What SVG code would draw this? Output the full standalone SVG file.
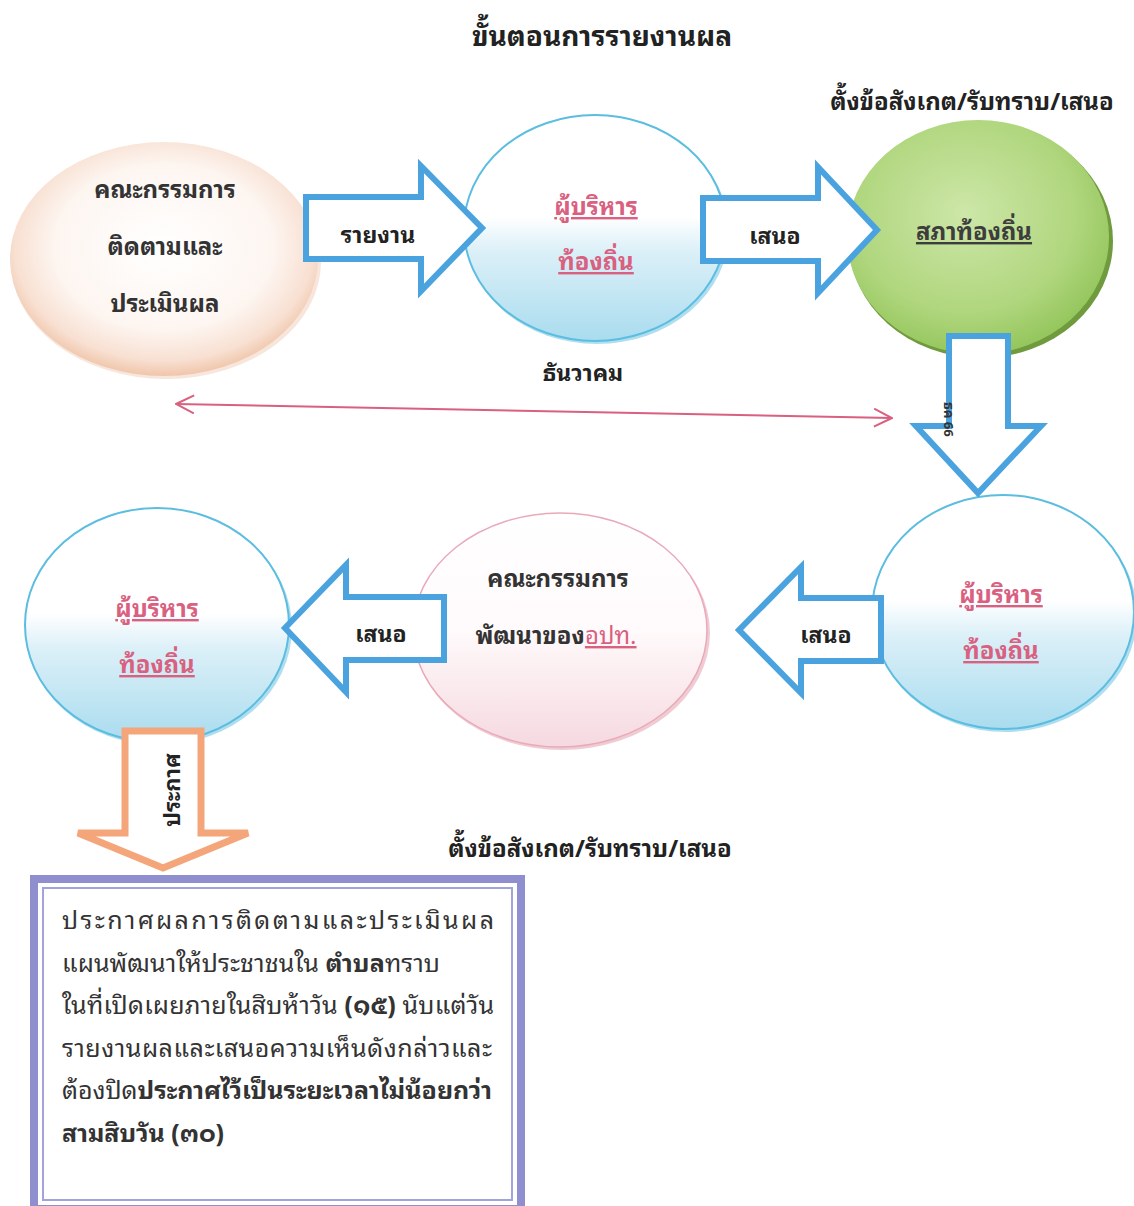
<svg xmlns="http://www.w3.org/2000/svg" width="1134" height="1206" viewBox="0 0 1134 1206">
<defs>
<style>
text{font-family:"Noto Sans Thai Looped","Loma","Garuda","Noto Sans Thai","Noto Sans",sans-serif;}
.t{fill:#333;font-weight:bold;font-size:24px;text-anchor:middle;}
.pk{fill:#d9607f;font-weight:bold;font-size:24px;text-anchor:middle;text-decoration:underline;}
.lb{fill:#222;font-weight:bold;font-size:23px;text-anchor:middle;}
.arrB{fill:#fff;stroke:#4aa3df;stroke-width:6;stroke-linejoin:miter;}
.arrO{fill:#fff;stroke:#f4a57a;stroke-width:7;stroke-linejoin:miter;}
.bx{fill:#333;font-size:25px;}
.b{font-weight:bold;}
</style>
<radialGradient id="gPeach" cx="0.5" cy="0.45" r="0.55">
<stop offset="0" stop-color="#ffffff"/><stop offset="0.65" stop-color="#fdf5f0"/><stop offset="0.88" stop-color="#f8e0d2"/><stop offset="1" stop-color="#f0c6ab"/>
</radialGradient>
<linearGradient id="gBlue" x1="0" y1="0" x2="0" y2="1">
<stop offset="0" stop-color="#ffffff"/><stop offset="0.45" stop-color="#ffffff"/><stop offset="0.6" stop-color="#dcf0f8"/><stop offset="1" stop-color="#a9dcef"/>
</linearGradient>
<radialGradient id="gGreen" cx="0.45" cy="0.4" r="0.6">
<stop offset="0" stop-color="#cde7a8"/><stop offset="0.7" stop-color="#b0d67e"/><stop offset="1" stop-color="#96c75e"/>
</radialGradient>
<linearGradient id="gPink" x1="0" y1="0" x2="0" y2="1">
<stop offset="0" stop-color="#ffffff"/><stop offset="0.5" stop-color="#fffafb"/><stop offset="1" stop-color="#f5d9e0"/>
</linearGradient>
<marker id="chev" viewBox="0 0 20 20" refX="19" refY="10" markerWidth="20" markerHeight="20" markerUnits="userSpaceOnUse" orient="auto-start-reverse">
<path d="M1,1 L19,10 L1,19" fill="none" stroke="#d9607f" stroke-width="2"/>
</marker>
</defs>
<rect width="1134" height="1206" fill="#fff"/>

<text x="602" y="46" class="t" style="font-size:28px;fill:#222">ขั้นตอนการรายงานผล</text>
<text x="972" y="110" class="t" style="fill:#222">ตั้งข้อสังเกต/รับทราบ/เสนอ</text>

<g id="node-committee-eval">
<ellipse cx="166" cy="262" rx="155" ry="117" fill="#e9b79b" opacity="0.35"/>
<ellipse cx="164" cy="259" rx="154" ry="117" fill="url(#gPeach)"/>
<text x="165" y="198" class="t">คณะกรรมการ</text>
<text x="165" y="255" class="t">ติดตามและ</text>
<text x="165" y="312" class="t">ประเมินผล</text>
</g>

<g id="node-exec1">
<ellipse cx="597" cy="231" rx="132" ry="113" fill="#8fd0e8" opacity="0.7"/>
<ellipse cx="595" cy="228" rx="131" ry="113" fill="url(#gBlue)" stroke="#5bbde0" stroke-width="2"/>
<text x="596" y="215" class="pk">ผู้บริหาร</text>
<text x="596" y="270" class="pk">ท้องถิ่น</text>
</g>

<g id="node-council">
<ellipse cx="981" cy="241" rx="132" ry="117" fill="#6f9a3e"/>
<ellipse cx="978" cy="237" rx="131" ry="117" fill="url(#gGreen)"/>
<text x="974" y="240" class="t" style="text-decoration:underline;fill:#3d3d3d">สภาท้องถิ่น</text>
</g>

<g id="node-exec2">
<ellipse cx="1005" cy="615" rx="132" ry="117" fill="#8fd0e8" opacity="0.7"/>
<ellipse cx="1003" cy="612" rx="131" ry="117" fill="url(#gBlue)" stroke="#5bbde0" stroke-width="2"/>
<text x="1001" y="603" class="pk">ผู้บริหาร</text>
<text x="1001" y="659" class="pk">ท้องถิ่น</text>
</g>

<g id="node-committee-dev">
<ellipse cx="562" cy="633" rx="148" ry="117" fill="#e8b7c2" opacity="0.7"/>
<ellipse cx="560" cy="630" rx="147" ry="117" fill="url(#gPink)" stroke="#eaa9b8" stroke-width="1.5"/>
<text x="558" y="587" class="t">คณะกรรมการ</text>
<text x="556" y="644" class="t"><tspan>พัฒนาของ</tspan><tspan style="fill:#d9607f;text-decoration:underline;font-weight:normal">อปท.</tspan></text>
</g>

<g id="node-exec3">
<ellipse cx="159" cy="628" rx="133" ry="117" fill="#8fd0e8" opacity="0.7"/>
<ellipse cx="157" cy="625" rx="132" ry="117" fill="url(#gBlue)" stroke="#5bbde0" stroke-width="2"/>
<text x="157" y="617" class="pk">ผู้บริหาร</text>
<text x="157" y="673" class="pk">ท้องถิ่น</text>
</g>

<g id="connectors">
<path class="arrB" d="M306,197 L421,197 L421,166 L482,228 L421,291 L421,259 L306,259 Z"/>
<text x="378" y="243" class="lb">รายงาน</text>
<path class="arrB" d="M703,198 L818,198 L818,167 L877,230 L818,293 L818,261 L703,261 Z"/>
<text x="775" y="244" class="lb">เสนอ</text>
<path class="arrB" d="M949,336 L1008,336 L1008,426 L1041,426 L978,493 L916,426 L949,426 Z"/>
<text x="0" y="0" transform="translate(944,402) rotate(90)" style="font-size:13px;fill:#333;font-weight:bold">ธค 66</text>
<line x1="176" y1="404" x2="892" y2="418" stroke="#d9607f" stroke-width="2" marker-start="url(#chev)" marker-end="url(#chev)"/>
<text x="583" y="381" class="lb">ธันวาคม</text>
<path class="arrB" d="M881,598 L801,598 L801,567 L739,630 L801,693 L801,661 L881,661 Z"/>
<text x="826" y="643" class="lb">เสนอ</text>
<path class="arrB" d="M444,597 L346,597 L346,565 L285,628 L346,692 L346,660 L444,660 Z"/>
<text x="381" y="642" class="lb">เสนอ</text>
<path class="arrO" d="M125,731 L201,731 L201,833 L248,833 L163,868 L78,833 L125,833 Z"/>
<text x="0" y="0" transform="translate(180,790) rotate(-90)" class="lb" style="font-size:22px">ประกาศ</text>
</g>

<text x="590" y="857" class="t" style="fill:#222">ตั้งข้อสังเกต/รับทราบ/เสนอ</text>

<g id="node-announce">
<rect x="34" y="879" width="487" height="330" fill="#fff" stroke="#8f8fd0" stroke-width="8"/>
<rect x="43" y="888" width="469" height="312" fill="#fff" stroke="#a3a3dc" stroke-width="2"/>
<text x="62" y="929" class="bx" textLength="432" lengthAdjust="spacing">ประกาศผลการติดตามและประเมินผล</text>
<text x="62" y="972" class="bx" textLength="378" lengthAdjust="spacing">แผนพัฒนาให้ประชาชนใน <tspan class="b">ตำบล</tspan>ทราบ</text>
<text x="62" y="1014" class="bx" textLength="432" lengthAdjust="spacing">ในที่เปิดเผยภายในสิบห้าวัน <tspan class="b">(๑๕)</tspan> นับแต่วัน</text>
<text x="62" y="1057" class="bx" textLength="430" lengthAdjust="spacing">รายงานผลและเสนอความเห็นดังกล่าวและ</text>
<text x="62" y="1099" class="bx" textLength="430" lengthAdjust="spacing">ต้องปิด<tspan class="b">ประกาศไว้เป็นระยะเวลาไม่น้อยกว่า</tspan></text>
<text x="62" y="1142" class="bx b" textLength="162" lengthAdjust="spacing">สามสิบวัน (๓๐)</text>
</g>
</svg>
